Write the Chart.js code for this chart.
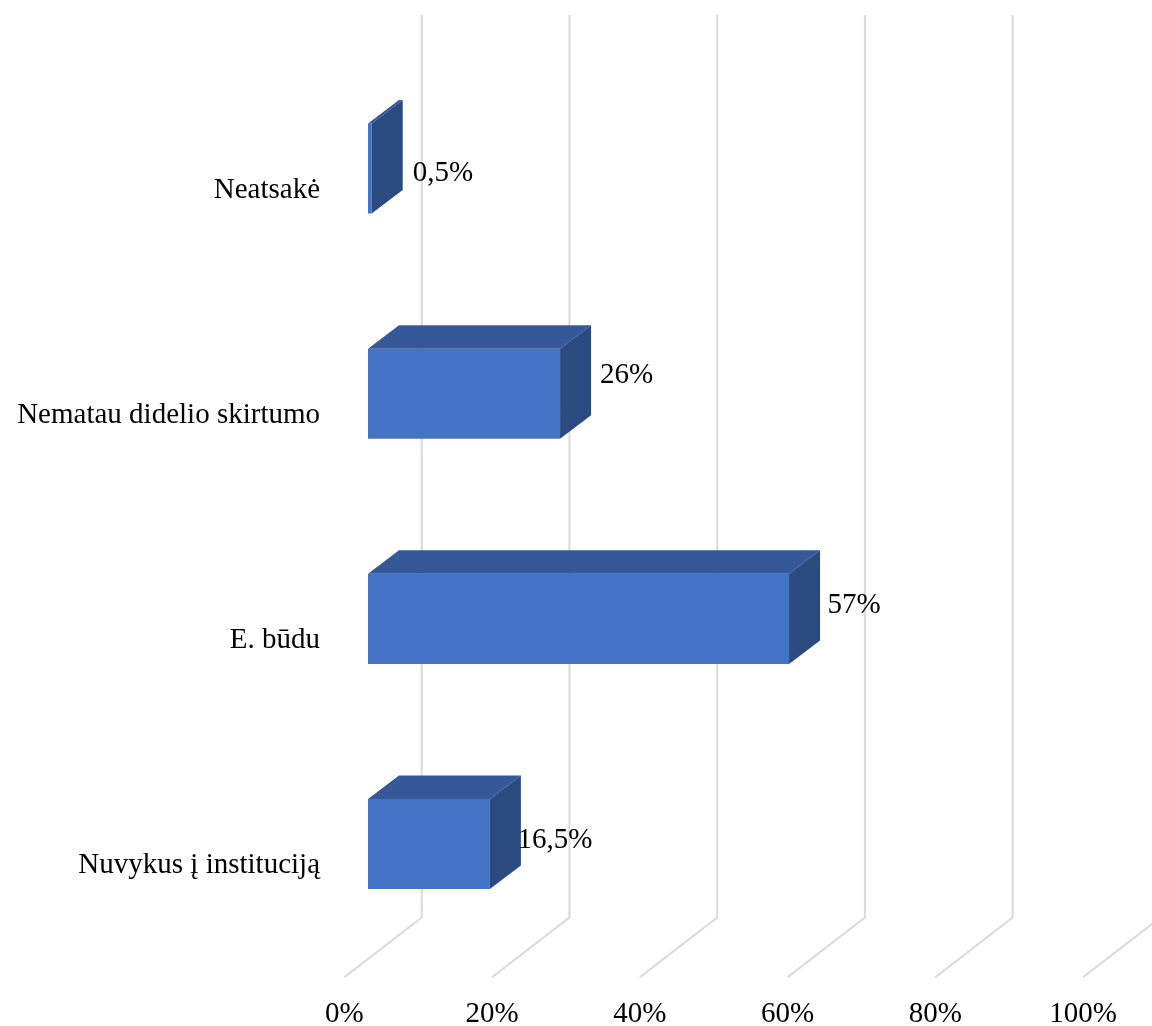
<!DOCTYPE html>
<html><head><meta charset="utf-8">
<script src="https://cdn.jsdelivr.net/npm/chart.js@4.4.1/dist/chart.umd.min.js"></script>
<style>html,body{margin:0;padding:0;background:#fff;overflow:hidden}</style>
</head><body>
<canvas id="c" width="1152" height="1026"></canvas>
<script>
// ---- data ----
const categories = ['Neatsakė', 'Nematau didelio skirtumo', 'E. būdu', 'Nuvykus į instituciją'];
const values = [0.5, 26, 57, 16.5];
const valueLabels = ['0,5%', '26%', '57%', '16,5%'];
const axisMin = 0, axisMax = 100, axisStep = 20;

// ---- style ----
const FONT = '"Liberation Serif", "Times New Roman", serif';
const FONT_SIZE = 29;
const FRONT = '#4472C4', TOP = '#355898', SIDE = '#2A4A80', GRID = '#d9d9d9';
const WALL = { fx: -23.7, fy: 20.7, bx: 53.7, by: -39, topY: 15 };
const BAR_D = { dx: 31, dy: -23.5 };
const LABEL_NUDGE = { dx: [10, 9, 7.5, -3.3], dy: [4.5, -18, -13, -4] };

const threeD = {
  id: 'threeD',
  beforeDatasetsDraw(chart) {
    const ctx = chart.ctx, xs = chart.scales.x, a = chart.chartArea;
    ctx.save();
    ctx.strokeStyle = GRID; ctx.lineWidth = 2; ctx.lineJoin = 'miter';
    xs.ticks.forEach(t => {
      const px = xs.getPixelForValue(t.value);
      ctx.beginPath();
      ctx.moveTo(px + WALL.fx, a.bottom + WALL.fy);
      ctx.lineTo(px + WALL.bx, a.bottom + WALL.by);
      ctx.lineTo(px + WALL.bx, WALL.topY);
      ctx.stroke();
    });
    ctx.restore();
  },
  afterDatasetsDraw(chart) {
    const ctx = chart.ctx, meta = chart.getDatasetMeta(0);
    ctx.save();
    meta.data.forEach((bar, i) => {
      const p = bar.getProps(['x', 'y', 'base', 'height'], true);
      const l = Math.min(p.base, p.x), r = Math.max(p.base, p.x);
      const t = p.y - p.height / 2, b = p.y + p.height / 2;
      const dx = BAR_D.dx, dy = BAR_D.dy;
      ctx.fillStyle = TOP;
      ctx.beginPath();
      ctx.moveTo(l, t); ctx.lineTo(r, t); ctx.lineTo(r + dx, t + dy); ctx.lineTo(l + dx, t + dy); ctx.closePath();
      ctx.fill();
      ctx.fillStyle = SIDE;
      ctx.beginPath();
      ctx.moveTo(r, t); ctx.lineTo(r, b); ctx.lineTo(r + dx, b + dy); ctx.lineTo(r + dx, t + dy); ctx.closePath();
      ctx.fill();
      ctx.fillStyle = '#000';
      ctx.font = FONT_SIZE + 'px ' + FONT;
      ctx.textAlign = 'left'; ctx.textBaseline = 'middle';
      ctx.fillText(valueLabels[i], r + dx + LABEL_NUDGE.dx[i], p.y + LABEL_NUDGE.dy[i]);
    });
    ctx.restore();
  }
};

new Chart(document.getElementById('c'), {
  type: 'bar',
  data: {
    labels: categories,
    datasets: [{ data: values, backgroundColor: FRONT, borderWidth: 0, barPercentage: 0.4, categoryPercentage: 1 }]
  },
  options: {
    indexAxis: 'y',
    responsive: false,
    animation: false,
    devicePixelRatio: 1,
    layout: { padding: { left: 0, right: 45.3, top: 56, bottom: 0 } },
    plugins: { legend: { display: false }, tooltip: { enabled: false } },
    scales: {
      x: {
        min: axisMin, max: axisMax,
        border: { display: false },
        grid: { display: false, drawTicks: false },
        ticks: { stepSize: axisStep, callback: v => v + '%', labelOffset: -23.7, padding: 40, color: '#000', maxRotation: 0,
                 font: { family: FONT, size: FONT_SIZE } },
        afterFit: s => { s.height = 69.4; s.paddingLeft = 0; s.paddingRight = 0; }
      },
      y: {
        border: { display: false },
        grid: { display: false, drawTicks: false },
        ticks: { labelOffset: 21.5, padding: 48, color: '#000', font: { family: FONT, size: FONT_SIZE } },
        afterFit: s => { s.width = 368; s.paddingTop = 0; s.paddingBottom = 0; }
      }
    }
  },
  plugins: [threeD]
});
</script>
</body></html>
